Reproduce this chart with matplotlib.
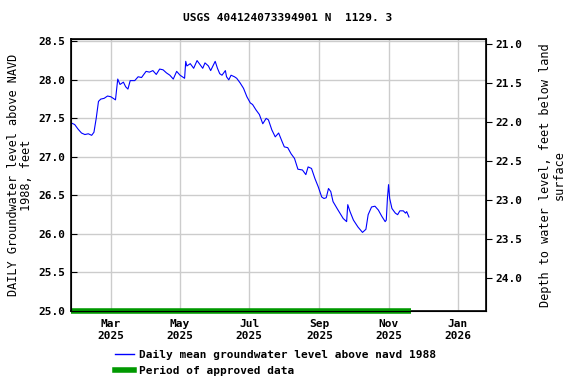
import numpy as np
import pandas as pd
import matplotlib
matplotlib.use("Agg")
import matplotlib.pyplot as plt
import matplotlib.dates as mdates

plt.rcParams["font.family"] = ["DejaVu Sans Mono"]
plt.rcParams["font.weight"] = "bold"
plt.rcParams["font.size"] = 8

TITLE = "USGS 404124073394901 N  1129. 3"

# daily mean groundwater level, ft above NAVD 1988
dates = [
    "2025-01-25", "2025-01-28", "2025-01-31", "2025-02-03", "2025-02-06",
    "2025-02-09", "2025-02-12", "2025-02-14", "2025-02-16", "2025-02-18",
    "2025-02-20", "2025-02-23", "2025-02-26", "2025-03-01", "2025-03-03",
    "2025-03-05", "2025-03-07", "2025-03-09", "2025-03-12", "2025-03-14",
    "2025-03-16", "2025-03-18", "2025-03-22", "2025-03-25", "2025-03-28",
    "2025-04-01", "2025-04-04", "2025-04-07", "2025-04-10", "2025-04-13",
    "2025-04-16", "2025-04-19", "2025-04-22", "2025-04-25", "2025-04-28",
    "2025-05-01", "2025-05-03", "2025-05-05", "2025-05-06", "2025-05-07",
    "2025-05-10", "2025-05-13", "2025-05-16", "2025-05-18", "2025-05-21",
    "2025-05-23", "2025-05-26", "2025-05-28", "2025-06-01", "2025-06-03",
    "2025-06-05", "2025-06-07", "2025-06-10", "2025-06-11", "2025-06-13",
    "2025-06-15", "2025-06-18", "2025-06-20", "2025-06-23", "2025-06-26",
    "2025-06-29", "2025-07-02", "2025-07-04", "2025-07-07", "2025-07-10",
    "2025-07-13", "2025-07-16", "2025-07-18", "2025-07-21", "2025-07-24",
    "2025-07-27", "2025-07-30", "2025-08-01", "2025-08-04", "2025-08-07",
    "2025-08-10", "2025-08-13", "2025-08-17", "2025-08-20", "2025-08-22",
    "2025-08-25", "2025-08-28", "2025-08-31", "2025-09-03", "2025-09-05",
    "2025-09-07", "2025-09-09", "2025-09-11", "2025-09-13", "2025-09-17",
    "2025-09-22", "2025-09-25", "2025-09-26", "2025-09-28", "2025-10-01",
    "2025-10-05", "2025-10-09", "2025-10-12", "2025-10-14", "2025-10-17",
    "2025-10-20", "2025-10-23", "2025-10-26", "2025-10-29", "2025-10-30",
    "2025-10-31", "2025-11-01", "2025-11-02", "2025-11-04", "2025-11-07",
    "2025-11-09", "2025-11-11", "2025-11-14", "2025-11-16", "2025-11-17",
    "2025-11-19",
]
levels = [
    27.44, 27.42, 27.36, 27.31, 27.29,
    27.30, 27.28, 27.32, 27.50, 27.72,
    27.75, 27.76, 27.79, 27.78, 27.76,
    27.74, 28.01, 27.94, 27.97, 27.91,
    27.88, 27.99, 27.99, 28.04, 28.03,
    28.11, 28.10, 28.12, 28.07, 28.14,
    28.13, 28.09, 28.06, 28.01, 28.11,
    28.06, 28.04, 28.02, 28.24, 28.18,
    28.21, 28.15, 28.25, 28.21, 28.15,
    28.22, 28.18, 28.12, 28.24, 28.15,
    28.08, 28.06, 28.12, 28.04, 28.00,
    28.06, 28.04, 28.02, 27.96, 27.89,
    27.78, 27.70, 27.68, 27.61, 27.55,
    27.43, 27.50, 27.48, 27.35, 27.26,
    27.31, 27.20, 27.13, 27.12, 27.04,
    26.98, 26.84, 26.83, 26.77, 26.87,
    26.85, 26.72, 26.61, 26.48, 26.46,
    26.47, 26.59, 26.55, 26.42, 26.32,
    26.20, 26.16, 26.38, 26.29, 26.18,
    26.09, 26.02, 26.06, 26.25, 26.35,
    26.36, 26.31, 26.23, 26.16, 26.18,
    26.46, 26.64, 26.46, 26.33, 26.27,
    26.25, 26.30, 26.30, 26.27, 26.29,
    26.22,
]

approved_start = "2025-01-25"
approved_end = "2025-11-21"

x_start, x_end = "2025-01-24 18:00", "2026-01-26"
y_ticks = [25.0, 25.5, 26.0, 26.5, 27.0, 27.5, 28.0, 28.5]
depth_ticks = [21.0, 21.5, 22.0, 22.5, 23.0, 23.5, 24.0]
month_ticks = ["2025-03-01", "2025-05-01", "2025-07-01", "2025-09-01", "2025-11-01", "2026-01-01"]

dt = pd.to_datetime(dates)

fig = plt.figure(figsize=(5.76, 3.84), dpi=100)
ax = fig.add_axes([71 / 576, 1 - 311 / 384, 415 / 576, 272 / 384])

ax.plot(dt, levels, color="blue", lw=0.8, zorder=3)
ax.plot(pd.to_datetime([approved_start, approved_end]), [25.0, 25.0],
        color="#009900", lw=4, solid_capstyle="butt", zorder=4, clip_on=False)

ax.set_xlim(pd.Timestamp(x_start), pd.Timestamp(x_end))
ax.set_ylim(25.0, 28.53)
ax.set_yticks(y_ticks)
ax.set_yticklabels([f"{v:.1f}" for v in y_ticks])
ax.set_xticks(pd.to_datetime(month_ticks))
ax.xaxis.set_major_formatter(mdates.DateFormatter("%b\n%Y"))
ax.tick_params(axis="x", length=0, pad=6)
ax.tick_params(axis="y", direction="in", length=4, pad=4)
ax.grid(True, color="#cccccc", lw=1)
ax.set_axisbelow(True)
for s in ax.spines.values():
    s.set_linewidth(1.2)

ax.set_ylabel("DAILY Groundwater level above NAVD\n1988, feet",
              fontsize=8.6, linespacing=1.0, labelpad=4)

ax2 = ax.twinx()
ax2.set_ylim(24.42, 20.94)
ax2.set_yticks(depth_ticks)
ax2.set_yticklabels([f"{v:.1f}" for v in depth_ticks])
ax2.tick_params(axis="y", direction="out", length=4, pad=3)
ax2.set_ylabel("Depth to water level, feet below land\nsurface",
               fontsize=8.6, linespacing=1.0, labelpad=12)

fig.text(0.5, 1 - 18 / 384, TITLE, ha="center", va="center", fontsize=8)

leg = fig.legend(
    handles=[
        plt.Line2D([], [], color="blue", lw=1),
        plt.Line2D([], [], color="#009900", lw=4),
    ],
    labels=["Daily mean groundwater level above navd 1988", "Period of approved data"],
    loc="upper left", bbox_to_anchor=(115 / 576, 1 - 350 / 384),
    frameon=False, handlelength=1.7, handletextpad=0.5,
    labelspacing=0.5, borderaxespad=0, borderpad=0, fontsize=8,
)

fig.savefig("out.png", dpi=100)
